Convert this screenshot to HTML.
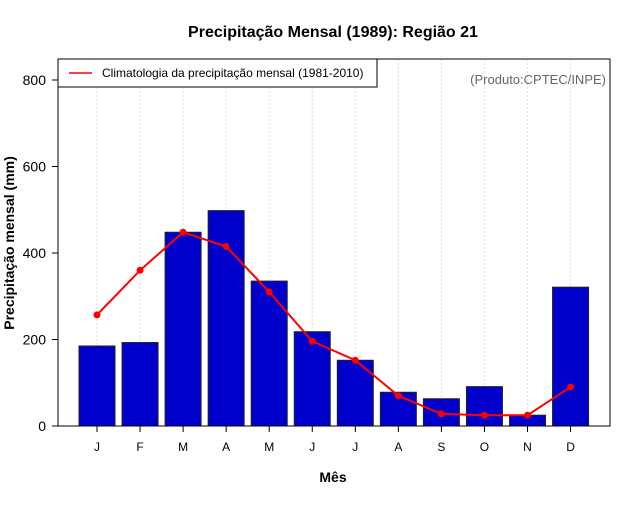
<!DOCTYPE html>
<html><head><meta charset="utf-8"><style>
body{margin:0;background:#fff;font-family:"Liberation Sans",sans-serif}
</style></head><body>
<svg id="c" width="640" height="500" xmlns="http://www.w3.org/2000/svg" font-family="Liberation Sans, sans-serif">
<rect width="640" height="500" fill="#fff"/>
<text x="333" y="37" text-anchor="middle" font-size="16" font-weight="bold">Precipitação Mensal (1989): Região 21</text>
<text x="333" y="482" text-anchor="middle" font-size="14" font-weight="bold">Mês</text>
<text transform="translate(14,243) rotate(-90)" text-anchor="middle" font-size="14" font-weight="bold">Precipitação mensal (mm)</text>
<g id="grid"></g><g id="bars"></g><g id="line"></g><g id="axes"></g>
<rect x="58" y="59" width="552" height="367" fill="none" stroke="#000" stroke-width="1"/>
<g>
<rect x="58" y="59" width="319" height="28" fill="#fff" stroke="#000"/>
<line x1="69" y1="73" x2="92" y2="73" stroke="#f00" stroke-width="1.5"/>
<text x="102" y="77" font-size="12">Climatologia da precipitação mensal (1981-2010)</text>
</g>
<text x="606" y="84" text-anchor="end" font-size="13" fill="#666">(Produto:CPTEC/INPE)</text>
</svg>
<script>
const months=["J","F","M","A","M","J","J","A","S","O","N","D"];
const observed=[185,193,448,498,335,218,152,78,63,91,25,321];
const climatology=[257,360,448,415,310,196,152,70,28,25,25,90];
const yTicks=[0,200,400,600,800];
const NS="http://www.w3.org/2000/svg";
const x=i=>97+i*43.05;
const y=v=>426-v*0.4325;
function mk(p,t,a){const e=document.createElementNS(NS,t);for(const k in a)e.setAttribute(k,a[k]);document.getElementById(p).appendChild(e);return e;}
months.forEach((m,i)=>{
  const g=mk("grid","line",{x1:x(i),x2:x(i),y1:59,y2:426,stroke:"#ddd","stroke-dasharray":"2,2"});
  
  
  const b=mk("bars","rect",{x:x(i)-18,y:y(observed[i]),width:36,height:426-y(observed[i]),fill:"#0000cc",stroke:"#222","stroke-width":1});
  
  
  const t=mk("axes","line",{x1:x(i),x2:x(i),y1:426,y2:432,stroke:"#000"});
  
  
  const l=mk("axes","text",{x:x(i),y:451,"text-anchor":"middle","font-size":12});
  l.textContent=m;
  
  
});
const pl=mk("line","polyline",{points:climatology.map((v,i)=>x(i)+","+y(v)).join(" "),fill:"none",stroke:"#f00","stroke-width":2});


climatology.forEach((v,i)=>{
  const c=mk("line","circle",{cx:x(i),cy:y(v),r:3.5,fill:"#f00"});
  
  
});
yTicks.forEach(v=>{
  const t=mk("axes","line",{x1:52,x2:58,y1:y(v),y2:y(v),stroke:"#000"});
  
  
  const l=mk("axes","text",{x:46,y:y(v)+5,"text-anchor":"end","font-size":14});
  l.textContent=v;
  
  
});
</script>
</body></html>
